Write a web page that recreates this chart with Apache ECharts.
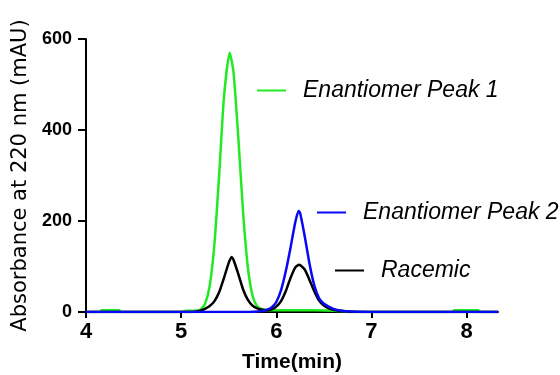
<!DOCTYPE html>
<html>
<head>
<meta charset="utf-8">
<script src="https://cdn.jsdelivr.net/npm/echarts@6/dist/echarts.min.js"></script>
<style>
html,body{margin:0;padding:0;background:#fff;}
#chart{width:560px;height:375px;}
</style>
</head>
<body>
<div id="chart"></div>
<script>
// Retention time (min) and absorbance (mAU)
var greenTime = [4.0, 4.15, 4.16, 4.35, 4.36, 5.0, 5.05, 5.1, 5.15, 5.2, 5.25, 5.3, 5.35, 5.4, 5.45, 5.51, 5.55, 5.6, 5.65, 5.7, 5.75, 5.8, 5.85, 5.9, 5.95, 6.0, 6.2, 6.4, 6.6, 6.7, 6.75, 7.85, 7.87, 8.12, 8.14, 8.33];
var greenAbs  = [0, 0, 4, 4, 0, 0, 3, 3, 3, 5, 17, 57, 150, 303, 472, 570, 528, 386, 222, 100, 36, 12, 6, 4, 4, 4, 4, 4, 3, 2, 0, 0, 4, 4, 0, 0];

var blackTime = [4.0, 5.1, 5.2, 5.25, 5.3, 5.35, 5.4, 5.45, 5.5, 5.53, 5.55, 5.6, 5.65, 5.7, 5.75, 5.8, 5.85, 5.9, 5.95, 6.0, 6.05, 6.1, 6.15, 6.2, 6.24, 6.3, 6.35, 6.4, 6.45, 6.5, 6.55, 6.6, 6.7, 6.8, 8.33];
var blackAbs  = [0, 0, 3, 7, 13, 24, 44, 75, 108, 121, 115, 84, 50, 27, 14, 8, 5, 4, 6, 12, 24, 46, 75, 98, 104, 93, 70, 45, 25, 14, 8, 5, 2, 0, 0];

var blueTime = [4.0, 5.7, 5.8, 5.85, 5.9, 5.95, 6.0, 6.05, 6.1, 6.15, 6.2, 6.235, 6.25, 6.3, 6.35, 6.4, 6.45, 6.5, 6.55, 6.6, 6.65, 6.7, 6.8, 7.0, 8.33];
var blueAbs  = [0, 0, 1, 2, 5, 10, 22, 48, 90, 142, 198, 222, 218, 165, 105, 58, 30, 18, 12, 7, 4, 2, 1, 0, 0];

var seriesNames = ['Enantiomer Peak 1', 'Racemic', 'Enantiomer Peak 2'];
var xTitle = 'Time(min)';
var yTitle = 'Absorbance at 220 nm (mAU)';

function zip(xs, ys) { return xs.map(function (x, i) { return [x, ys[i]]; }); }

var GREEN = '#22ea22', BLUE = '#0808f5', BLACK = '#000000';

var legendText = {
  color: '#000', fontSize: 23, fontStyle: 'italic',
  fontFamily: 'Liberation Sans, Arial, sans-serif', padding: [0, 0, 0, 12]
};
function legendAt(name, left, top) {
  return {
    data: [name], left: left, top: top, orient: 'horizontal',
    icon: 'rect', itemWidth: 29, itemHeight: 2, padding: 0,
    textStyle: legendText, selectedMode: false
  };
}

var chart = echarts.init(document.getElementById('chart'), null, { renderer: 'canvas' });
chart.setOption({
  animation: false,
  backgroundColor: '#ffffff',
  grid: { left: 86, right: 62, top: 39, bottom: 63, containLabel: false, outerBoundsMode: 'none' },
  legend: [
    legendAt(seriesNames[0], 257, 79),
    legendAt(seriesNames[2], 317, 201),
    legendAt(seriesNames[1], 335, 259)
  ],
  xAxis: {
    type: 'value', min: 4, max: 8.33, interval: 1,
    name: xTitle, nameLocation: 'middle', nameGap: 40,
    nameTextStyle: { fontSize: 21, fontWeight: 'bold', color: '#000', fontFamily: 'Liberation Sans, Arial, sans-serif' },
    axisLine: { lineStyle: { color: '#000', width: 2 } },
    axisTick: { length: 6, lineStyle: { color: '#000', width: 2 } },
    axisLabel: { showMaxLabel: false, margin: 9, fontSize: 22, fontWeight: 'bold', color: '#000', fontFamily: 'Liberation Sans, Arial, sans-serif' },
    splitLine: { show: false }
  },
  yAxis: {
    type: 'value', min: 0, max: 600, interval: 200,
    name: yTitle, nameLocation: 'middle', nameGap: 41, nameRotate: 90,
    nameTextStyle: { fontSize: 21, color: '#000', fontFamily: 'DejaVu Sans, sans-serif' },
    axisLine: { show: true, lineStyle: { color: '#000', width: 2 } },
    axisTick: { show: true, length: 8, lineStyle: { color: '#000', width: 2 } },
    axisLabel: { margin: 14, fontSize: 18, fontWeight: 'bold', color: '#000', fontFamily: 'Liberation Sans, Arial, sans-serif' },
    splitLine: { show: false }
  },
  series: [
    { name: seriesNames[0], type: 'line', data: zip(greenTime, greenAbs), showSymbol: false, smooth: 0.2, color: GREEN, lineStyle: { color: GREEN, width: 2.5 } },
    { name: seriesNames[1], type: 'line', data: zip(blackTime, blackAbs), showSymbol: false, smooth: 0.2, color: BLACK, lineStyle: { color: BLACK, width: 2.5 } },
    { name: seriesNames[2], type: 'line', data: zip(blueTime, blueAbs), showSymbol: false, smooth: 0.2, color: BLUE, lineStyle: { color: BLUE, width: 2.5 } }
  ]
});
</script>
</body>
</html>
